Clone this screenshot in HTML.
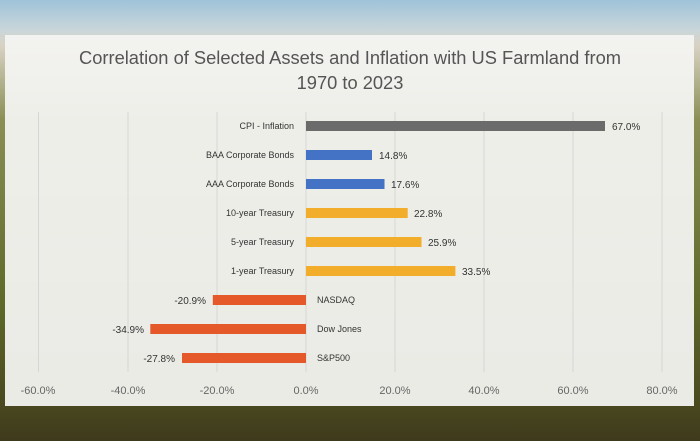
<!DOCTYPE html>
<html><head><style>
body{margin:0;width:700px;height:441px;overflow:hidden;font-family:"Liberation Sans",sans-serif;}
.bg{position:absolute;left:0;top:0;width:700px;height:441px;background:linear-gradient(#9fc3d9 0px,#c9d6da 30px,#d8d2c4 45px,#8a8f55 120px,#5f6a2a 300px,#4a4a20 400px,#3e3a1c 441px);}
.panel{position:absolute;left:5px;top:35px;width:689px;height:371px;background:rgba(243,243,241,0.95);}
svg{position:absolute;left:0;top:0}
</style></head><body>
<div class="bg"></div>
<div class="panel"></div>
<svg width="700" height="441" font-family="Liberation Sans, sans-serif">
<text x="350" y="64" font-size="18.3" fill="#555" text-anchor="middle" textLength="542" lengthAdjust="spacingAndGlyphs">Correlation of Selected Assets and Inflation with US Farmland from</text>
<text x="350" y="89" font-size="18.3" fill="#555" text-anchor="middle">1970 to 2023</text>
<g stroke="#d6d6d6" stroke-width="1">
<line x1="38.5" y1="112" x2="38.5" y2="372"/><line x1="128" y1="112" x2="128" y2="372"/>
<line x1="217" y1="112" x2="217" y2="372"/><line x1="306" y1="112" x2="306" y2="372"/>
<line x1="395" y1="112" x2="395" y2="372"/><line x1="484" y1="112" x2="484" y2="372"/>
<line x1="573" y1="112" x2="573" y2="372"/><line x1="662" y1="112" x2="662" y2="372"/>
</g>
<g font-size="11" fill="#666" text-anchor="middle">
<text x="38" y="394">-60.0%</text><text x="128" y="394">-40.0%</text><text x="217" y="394">-20.0%</text><text x="306" y="394">0.0%</text>
<text x="395" y="394">20.0%</text><text x="484" y="394">40.0%</text><text x="573" y="394">60.0%</text><text x="662" y="394">80.0%</text>
</g>
<g>
<rect x="306" y="121" width="299" height="10" fill="#6b6b6b"/>
<rect x="306" y="150" width="66" height="10" fill="#4472c4"/>
<rect x="306" y="179" width="78.5" height="10" fill="#4472c4"/>
<rect x="306" y="208" width="101.7" height="10" fill="#f2ad2a"/>
<rect x="306" y="237" width="115.5" height="10" fill="#f2ad2a"/>
<rect x="306" y="266" width="149.4" height="10" fill="#f2ad2a"/>
<rect x="212.8" y="295" width="93.2" height="10" fill="#e5582a"/>
<rect x="150.3" y="324" width="155.7" height="10" fill="#e5582a"/>
<rect x="182" y="353" width="124" height="10" fill="#e5582a"/>
</g>
<g font-size="9" fill="#333">
<g text-anchor="end">
<text x="294" y="129">CPI - Inflation</text><text x="294" y="158">BAA Corporate Bonds</text>
<text x="294" y="187">AAA Corporate Bonds</text><text x="294" y="216">10-year Treasury</text>
<text x="294" y="245">5-year Treasury</text><text x="294" y="274">1-year Treasury</text>
</g>
<text x="317" y="303">NASDAQ</text><text x="317" y="332">Dow Jones</text><text x="317" y="361">S&amp;P500</text>
</g>
<g font-size="10" fill="#333">
<text x="612" y="130">67.0%</text><text x="379" y="159">14.8%</text><text x="391" y="188">17.6%</text>
<text x="414" y="217">22.8%</text><text x="428" y="246">25.9%</text><text x="462" y="275">33.5%</text>
<g text-anchor="end"><text x="206" y="304">-20.9%</text><text x="144" y="333">-34.9%</text><text x="175" y="362">-27.8%</text></g>
</g>
</svg>
</body></html>
